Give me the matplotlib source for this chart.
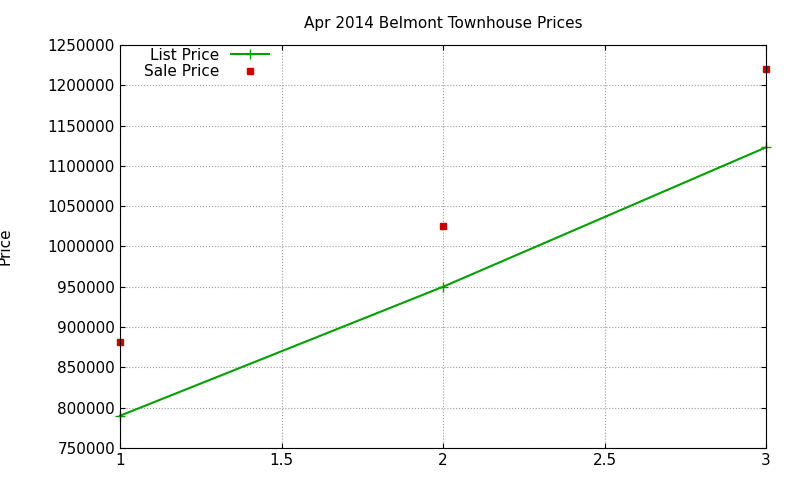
import matplotlib
matplotlib.use("Agg")
import matplotlib.pyplot as plt
from matplotlib.ticker import FuncFormatter

x = [1, 2, 3]
list_price = [790000, 950000, 1123000]
sale_price = [881500, 1025000, 1220000]

fig = plt.figure(figsize=(8, 4.8), dpi=100)
ax = fig.add_axes([0.15, 0.0667, 0.8075, 0.8396])
ax.plot(x, list_price, color="#00a000", marker="+", markersize=7, linewidth=1.5,
        label="List Price", clip_on=False)
ax.plot(x, sale_price, color="#cc0000", marker="s", markersize=5, linestyle="none",
        label="Sale Price", clip_on=False)
ax.set_xlim(1, 3)
ax.set_ylim(750000, 1250000)
ax.set_xticks([1, 1.5, 2, 2.5, 3])
ax.set_xticklabels(["1", "1.5", "2", "2.5", "3"])
ax.set_yticks(range(750000, 1250001, 50000))
ax.yaxis.set_major_formatter(FuncFormatter(lambda v, p: f"{int(v)}"))
ax.grid(True, linestyle=":", color="#999999", linewidth=0.8)
ax.tick_params(direction="in", labelsize=11, top=True, right=True)
for s in ax.spines.values():
    s.set_color("black")
ax.set_ylabel("Price", fontsize=11)
ax.yaxis.set_label_coords(-0.167, 0.5)
ax.set_title("Apr 2014 Belmont Townhouse Prices", fontsize=11, pad=12)
ax.legend(loc="upper left", markerfirst=False, frameon=False, fontsize=11,
          bbox_to_anchor=(0.02, 1.02), handlelength=2.5, borderpad=0.2, labelspacing=0.1)
fig.savefig("out.png")
